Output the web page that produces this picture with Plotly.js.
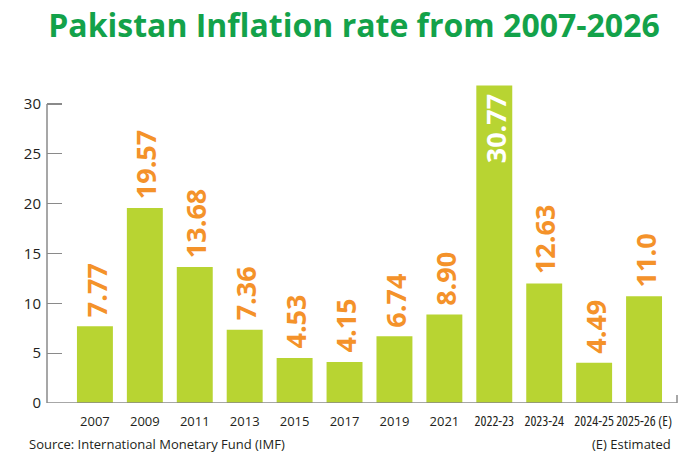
<!DOCTYPE html>
<html>
<head>
<meta charset="utf-8">
<script src="https://cdn.plot.ly/plotly-3.0.1.min.js"></script>
<style>
  html, body { margin: 0; padding: 0; background: #ffffff; }
  #chart { width: 700px; height: 465px; }
</style>
</head>
<body>
<div id="chart"></div>
<script>
// Categories (x axis)
const categories = ["2007", "2009", "2011", "2013", "2015", "2017", "2019", "2021", "2022-23", "2023-24", "2024-25", "2025-26 (E)"];
// Bar heights as drawn in the picture
const barHeights = [7.7, 19.57, 13.65, 7.36, 4.52, 4.12, 6.7, 8.88, 31.85, 12.0, 4.05, 10.7];
// Printed value labels
const valueLabels = ["7.77", "19.57", "13.68", "7.36", "4.53", "4.15", "6.74", "8.90", "30.77", "12.63", "4.49", "11.0"];
// Which labels sit inside their bar
const labelInside = [false, false, false, false, false, false, false, false, true, false, false, false];
// Y tick values
const yTicks = [0, 5, 10, 15, 20, 25, 30];
// Categories drawn in a condensed face
const condensedCats = ["2022-23", "2023-24", "2024-25", "2025-26 (E)"];

const BAR = "#b8d432";
const ORANGE = "#f4922a";
const GREEN = "#13a24a";
const AXIS = "#8a8a8a";
const TEXT = "#231f20";

const tickText = categories.map(c => condensedCats.includes(c)
  ? "<span style=\"font-stretch:condensed; font-size:14px\">" + c + "</span>"
  : c);

const trace = {
  type: "bar",
  x: categories,
  y: barHeights,
  marker: { color: BAR, line: { width: 0 } },
  hoverinfo: "skip",
  cliponaxis: false
};

const annotations = categories.map((c, i) => ({
  x: i,
  y: barHeights[i],
  xref: "x",
  yref: "y",
  text: "<b>" + valueLabels[i] + "</b>",
  showarrow: false,
  textangle: -90,
  xanchor: "center",
  yanchor: labelInside[i] ? "top" : "bottom",
  yshift: labelInside[i] ? -7 : 7,
  xshift: 1,
  font: { family: "Open Sans, sans-serif", size: 27, color: labelInside[i] ? "#ffffff" : ORANGE }
}));

annotations.push({
  xref: "paper", yref: "paper",
  x: (27 - 47) / 630, y: (403 - 444) / 319,
  xanchor: "left", yanchor: "middle",
  text: "Source: International Monetary Fund (IMF)",
  showarrow: false,
  font: { family: "Open Sans, sans-serif", size: 13, color: TEXT }
});
annotations.push({
  xref: "paper", yref: "paper",
  x: (673 - 47) / 630, y: (403 - 444) / 319,
  xanchor: "right", yanchor: "middle",
  text: "(E) Estimated",
  showarrow: false,
  font: { family: "Open Sans, sans-serif", size: 13, color: TEXT }
});

const layout = {
  width: 700,
  height: 465,
  margin: { l: 47, r: 23, t: 84, b: 62 },
  paper_bgcolor: "#ffffff",
  plot_bgcolor: "#ffffff",
  showlegend: false,
  bargap: 0.28,
  title: {
    text: "<b>Pakistan Inflation rate from 2007-2026</b>",
    font: { family: "Open Sans, sans-serif", size: 32, color: GREEN },
    xref: "container", yref: "container",
    x: 354 / 700, xanchor: "center",
    y: 1 - 26 / 465, yanchor: "middle"
  },
  xaxis: {
    type: "category",
    range: [-0.96, 11.66],
    tickvals: categories,
    ticktext: tickText,
    tickangle: 0,
    ticks: "",
    ticklabelstandoff: 9,
    showline: false,
    showgrid: false,
    zeroline: false,
    fixedrange: true,
    tickfont: { family: "Open Sans, sans-serif", size: 13, color: TEXT }
  },
  yaxis: {
    range: [0, 32],
    tickvals: yTicks,
    ticks: "inside",
    ticklen: 15,
    tickwidth: 1.3,
    tickcolor: AXIS,
    showline: false,
    showgrid: false,
    zeroline: false,
    fixedrange: true,
    ticklabelstandoff: 5,
    tickfont: { family: "Open Sans, sans-serif", size: 15, color: TEXT }
  },
  shapes: [
    { type: "line", xref: "paper", yref: "y", x0: 0, x1: 0, y0: 0, y1: 30, line: { color: AXIS, width: 1.5 } },
    { type: "line", xref: "paper", yref: "y", x0: 0, x1: 1, y0: 0, y1: 0, line: { color: AXIS, width: 1.5 }, layer: "above" },
    { type: "line", xref: "paper", yref: "paper", x0: 1, x1: 1, y0: 0, y1: 8 / 319, line: { color: AXIS, width: 1.5 } }
  ],
  annotations: annotations
};

Plotly.newPlot("chart", [trace], layout, { displayModeBar: false, staticPlot: true });
</script>
</body>
</html>
